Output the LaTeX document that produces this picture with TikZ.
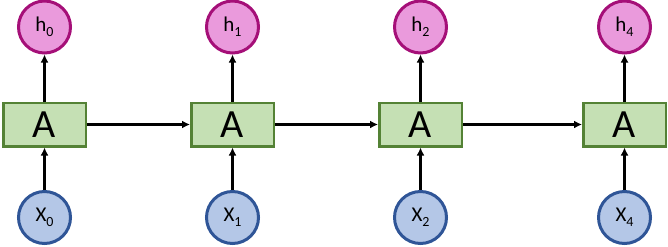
\documentclass[tikz,border=0pt]{standalone}
\usepackage{fontspec}
\setmainfont{Carlito}
\usetikzlibrary{arrows.meta}
\definecolor{boxfill}{HTML}{C5E0B4}
\definecolor{boxdraw}{HTML}{548235}
\definecolor{hfill}{HTML}{EA9ADC}
\definecolor{hdraw}{HTML}{A50F78}
\definecolor{xfill}{HTML}{B4C7E7}
\definecolor{xdraw}{HTML}{2F5597}
\tikzset{
  cell/.style={draw=boxdraw, fill=boxfill, line width=2.5pt, minimum width=82.5pt, minimum height=43.5pt, inner sep=0pt, font=\fontsize{40}{42}\selectfont},
  hnode/.style={circle, draw=hdraw, fill=hfill, line width=3pt, minimum size=52pt, inner sep=0pt, font=\fontsize{21}{23}\selectfont},
  xnode/.style={circle, draw=xdraw, fill=xfill, line width=3pt, minimum size=52pt, inner sep=0pt, font=\fontsize{21}{23}\selectfont},
  conn/.style={line width=2.5pt, -{Latex[length=8pt,width=8pt]}}
}
\newcommand{\sub}[2]{#1\raisebox{-0.22em}{\fontsize{14}{15}\selectfont #2}}
\begin{document}
\begin{tikzpicture}[x=1pt,y=-1pt]
\useasboundingbox (0,0) rectangle (668,246);
\foreach \i/\cx/\k in {0/44.5/0,1/232.5/1,2/420.5/2,3/624.5/4}{
  \node[cell] (a\i) at (\cx,124.5) {A};
  \node[hnode] (h\i) at (\cx,27) {\sub{h}{\k}};
  \node[xnode] (x\i) at (\cx,217.5) {\sub{X}{\k}};
  \draw[conn] (a\i) -- (h\i);
  \draw[conn] (x\i) -- (a\i);
}
\draw[conn] (a0) -- (a1);
\draw[conn] (a1) -- (a2);
\draw[conn] (a2) -- (a3);
\end{tikzpicture}
\end{document}
